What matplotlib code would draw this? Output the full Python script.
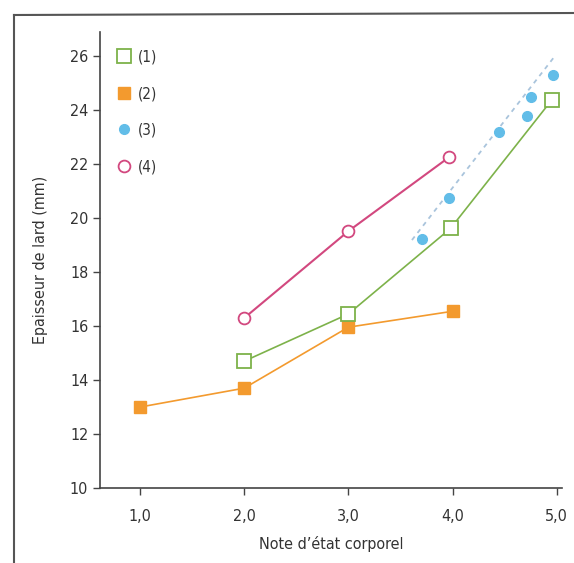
import matplotlib
matplotlib.use("Agg")
import matplotlib.pyplot as plt
from matplotlib.lines import Line2D

plt.rcParams['font.family'] = ['Liberation Sans Narrow', 'DejaVu Sans']
plt.rcParams['font.stretch'] = 'condensed'

# donnees
x1 = [2.0, 3.0, 3.98, 4.95]
y1 = [14.7, 16.45, 19.62, 24.37]
x2 = [1.0, 2.0, 3.0, 4.0]
y2 = [13.0, 13.7, 15.96, 16.55]
x3 = [3.71, 3.97, 4.45, 4.71, 4.75, 4.96]
y3 = [19.21, 20.73, 23.2, 23.78, 24.49, 25.3]
trend_x = [3.61, 4.97]
trend_y = [19.19, 25.95]
x4 = [2.0, 3.0, 3.97]
y4 = [16.3, 19.52, 22.27]

xticks = [1, 2, 3, 4, 5]
xticklabels = ["1,0", "2,0", "3,0", "4,0", "5,0"]
yticks = [10, 12, 14, 16, 18, 20, 22, 24, 26]
labels = ["(1)", "(2)", "(3)", "(4)"]

green = "#7db24a"
orange = "#f39a2e"
blue = "#62bde8"
pink = "#d2487f"
txt = "#333333"

fig = plt.figure(figsize=(5.74, 5.63), dpi=100)
ax = fig.add_axes([100/574, 1-488/563, 462/574, (488-32)/563])

ax.plot(trend_x, trend_y, color="#a9c4dc", lw=1.3, ls=(0, (2.5, 2.5)), zorder=1)
ax.plot(x2, y2, color=orange, lw=1.2, marker="s", ms=8.5, mfc=orange, mec=orange, zorder=2)
ax.plot(x1, y1, color=green, lw=1.2, marker="s", ms=10, mfc="white", mec=green, mew=1.3, zorder=3)
ax.plot(x4, y4, color=pink, lw=1.5, marker="o", ms=8.5, mfc="white", mec=pink, mew=1.3, zorder=3)
ax.plot(x3, y3, ls="none", marker="o", ms=7, mfc=blue, mec=blue, zorder=4)

ax.set_xlim(0.616, 5.05)
ax.set_ylim(10, 26.9)
ax.set_xticks(xticks)
ax.set_xticklabels(xticklabels)
ax.set_yticks(yticks)
for s in ["top", "right"]:
    ax.spines[s].set_visible(False)
for s in ["left", "bottom"]:
    ax.spines[s].set_color("#444444")
    ax.spines[s].set_linewidth(1.2)
ax.tick_params(axis="both", direction="out", length=5, width=1, color="#444444",
               labelsize=11.5, labelcolor=txt)
ax.tick_params(axis="x", pad=10)
ax.set_xlabel("Note d\u2019\u00e9tat corporel", fontsize=11.5, color=txt, labelpad=9)
ax.set_ylabel("Epaisseur de lard (mm)", fontsize=11.5, color=txt, labelpad=16)

handles = [
    Line2D([], [], ls="none", marker="s", ms=10, mfc="white", mec=green, mew=1.3),
    Line2D([], [], ls="none", marker="s", ms=8.5, mfc=orange, mec=orange),
    Line2D([], [], ls="none", marker="o", ms=7, mfc=blue, mec=blue),
    Line2D([], [], ls="none", marker="o", ms=8.5, mfc="white", mec=pink, mew=1.3),
]
leg = ax.legend(handles, labels, loc="upper left", bbox_to_anchor=(0.005, 0.992),
                frameon=False, fontsize=11, labelspacing=1.42, handlelength=1.0,
                handletextpad=0.4)
for t in leg.get_texts():
    t.set_color(txt)

# cadre de la page scannee
fig.add_artist(Line2D([14/574, 14/574], [0, 1-15/563], color="#555555", lw=1.5))
fig.add_artist(Line2D([14/574, 1], [1-15/563, 1-13/563], color="#555555", lw=1.5))

fig.savefig("out.png", dpi=100)
